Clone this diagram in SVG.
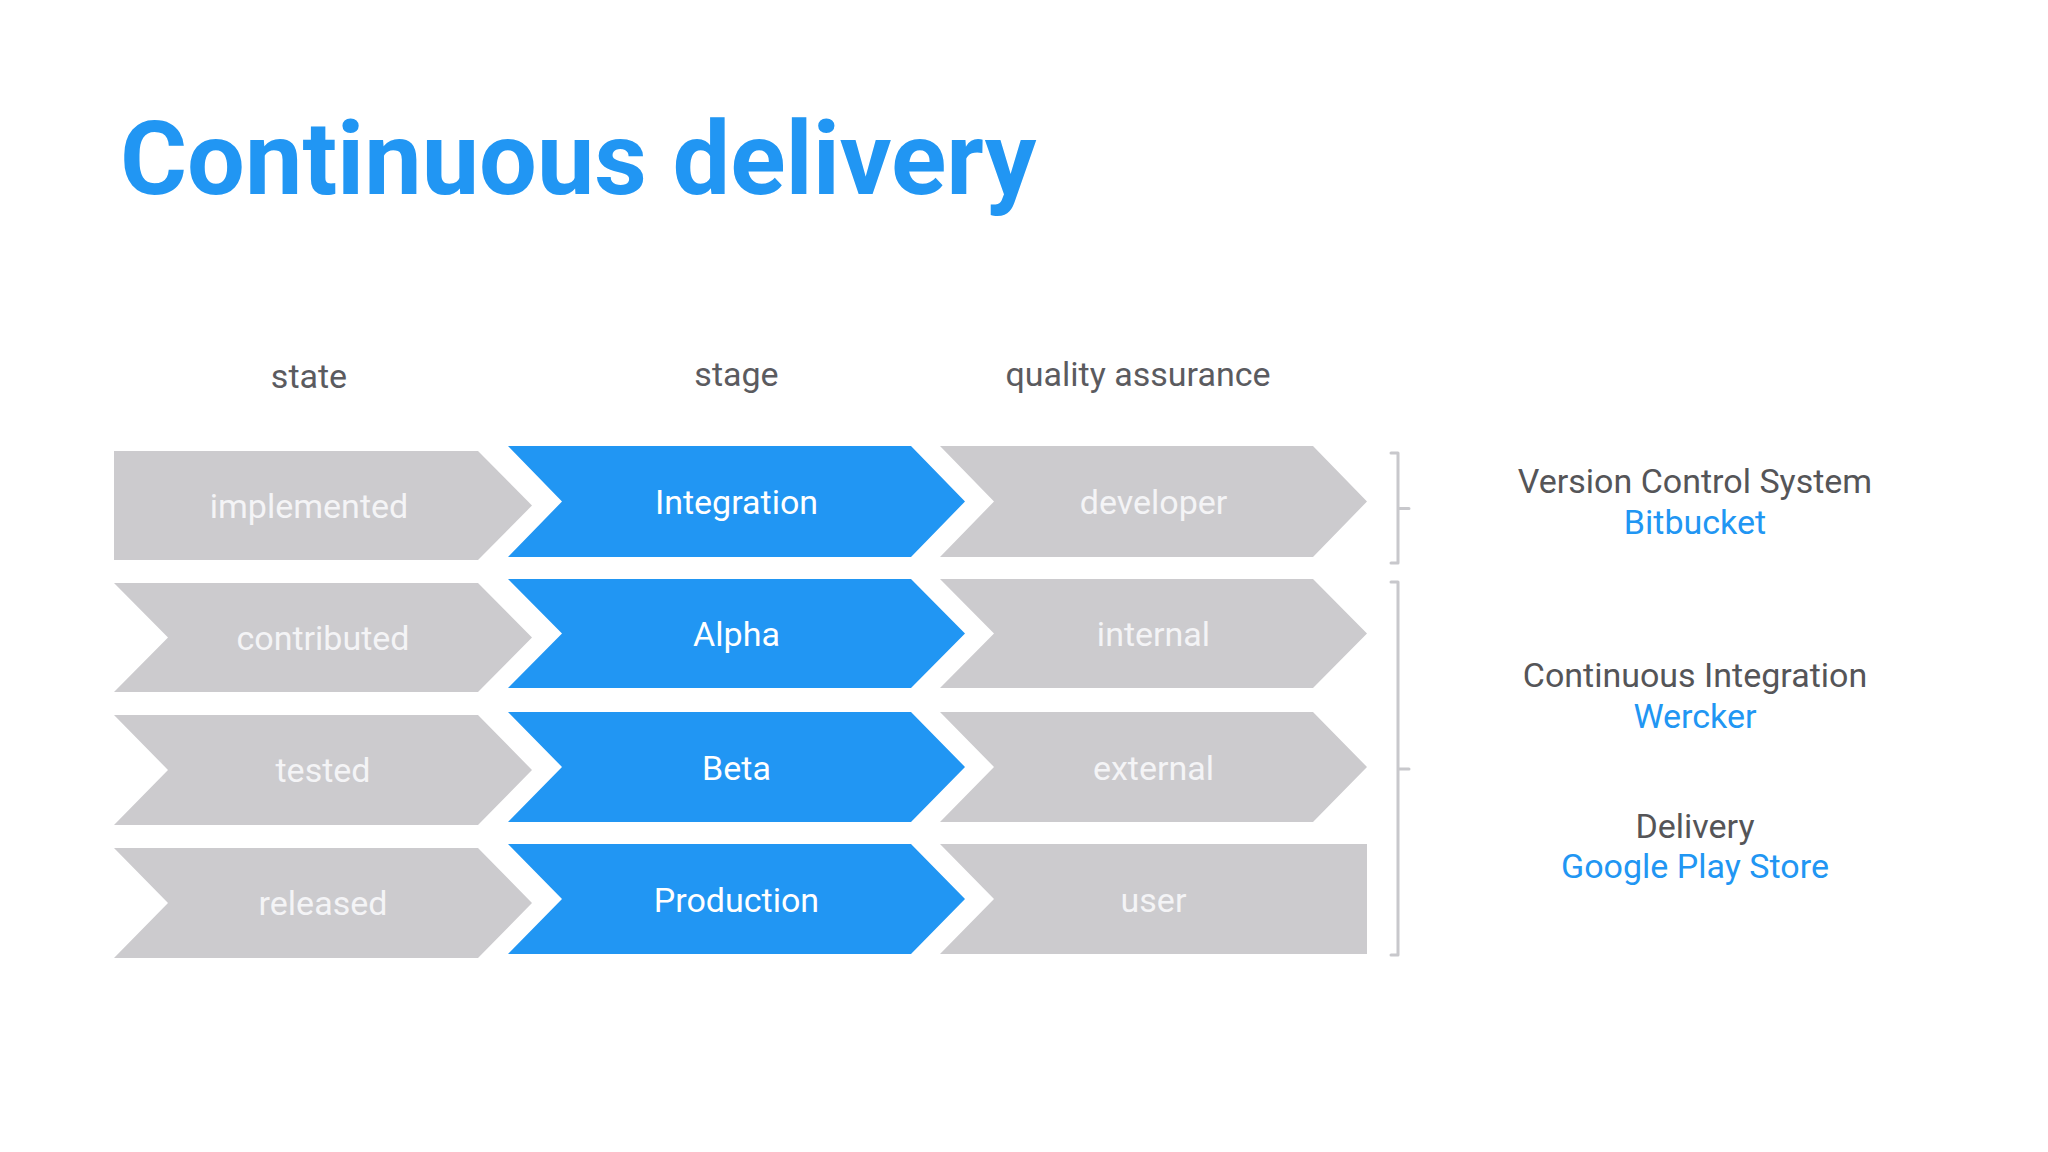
<svg xmlns="http://www.w3.org/2000/svg" width="2048" height="1152" viewBox="0 0 2048 1152">
<style>
.title{font-family:Roboto,"Liberation Sans",sans-serif;font-weight:700;font-size:102.5px;fill:#2196F3}
.hdr{font-family:Roboto,"Liberation Sans",sans-serif;font-size:34px;fill:#5b5b5f;text-anchor:middle}
.gray{fill:#CCCBCE}
.blue{fill:#2196F3}
.lg{font-family:Roboto,"Liberation Sans",sans-serif;font-size:34px;fill:#F4F4F6;text-anchor:middle}
.lb{font-family:Roboto,"Liberation Sans",sans-serif;font-size:34px;fill:#FFFFFF;text-anchor:middle}
.rd{font-family:Roboto,"Liberation Sans",sans-serif;font-size:34px;fill:#555558;text-anchor:middle}
.rb{font-family:Roboto,"Liberation Sans",sans-serif;font-size:34px;fill:#2196F3;text-anchor:middle}
.br{fill:none;stroke:#C8C8CC;stroke-width:3;stroke-linejoin:round;stroke-linecap:round}
</style>
<rect width="2048" height="1152" fill="#FFFFFF"/>
<text class="title" x="120" y="194">Continuous delivery</text>
<g id="headers">
<text class="hdr" x="309" y="388">state</text>
<text class="hdr" x="736.5" y="386">stage</text>
<text class="hdr" x="1138" y="386">quality assurance</text>
</g>
<g id="implemented"><polygon class="gray" points="114,451 478,451 532,505.5 478,560 114,560"/><text class="lg" x="309" y="518">implemented</text></g>
<g id="contributed"><polygon class="gray" points="114,583 478,583 532,637.5 478,692 114,692 168,637.5"/><text class="lg" x="323" y="650">contributed</text></g>
<g id="tested"><polygon class="gray" points="114,715 478,715 532,770 478,825 114,825 168,770"/><text class="lg" x="323" y="782">tested</text></g>
<g id="released"><polygon class="gray" points="114,848 478,848 532,903 478,958 114,958 168,903"/><text class="lg" x="323" y="915">released</text></g>
<g id="integration"><polygon class="blue" points="508,446 911,446 965,501.5 911,557 508,557 562,501.5"/><text class="lb" x="736.5" y="514">Integration</text></g>
<g id="alpha"><polygon class="blue" points="508,579 911,579 965,633.5 911,688 508,688 562,633.5"/><text class="lb" x="736.5" y="646">Alpha</text></g>
<g id="beta"><polygon class="blue" points="508,712 911,712 965,767 911,822 508,822 562,767"/><text class="lb" x="736.5" y="779.5">Beta</text></g>
<g id="production"><polygon class="blue" points="508,844 911,844 965,899 911,954 508,954 562,899"/><text class="lb" x="736.5" y="911.5">Production</text></g>
<g id="developer"><polygon class="gray" points="940,446 1313,446 1367,501.5 1313,557 940,557 994,501.5"/><text class="lg" x="1153.5" y="514">developer</text></g>
<g id="internal"><polygon class="gray" points="940,579 1313,579 1367,633.5 1313,688 940,688 994,633.5"/><text class="lg" x="1153.5" y="646">internal</text></g>
<g id="external"><polygon class="gray" points="940,712 1313,712 1367,767 1313,822 940,822 994,767"/><text class="lg" x="1153.5" y="779.5">external</text></g>
<g id="user"><polygon class="gray" points="940,844 1367,844 1367,954 940,954 994,899"/><text class="lg" x="1153.5" y="911.5">user</text></g>
<g id="connectors">
<path class="br" d="M1391,453 H1398 V563 H1391 M1398,508.5 H1409"/>
<path class="br" d="M1391,582 H1398 V955 H1391 M1398,769 H1409"/>
</g>
<g id="vcs"><text class="rd" x="1695" y="493">Version Control System</text><text class="rb" x="1695" y="534">Bitbucket</text></g>
<g id="ci"><text class="rd" x="1695" y="687">Continuous Integration</text><text class="rb" x="1695" y="728">Wercker</text></g>
<g id="delivery"><text class="rd" x="1695" y="838">Delivery</text><text class="rb" x="1695" y="878">Google Play Store</text></g>
</svg>
